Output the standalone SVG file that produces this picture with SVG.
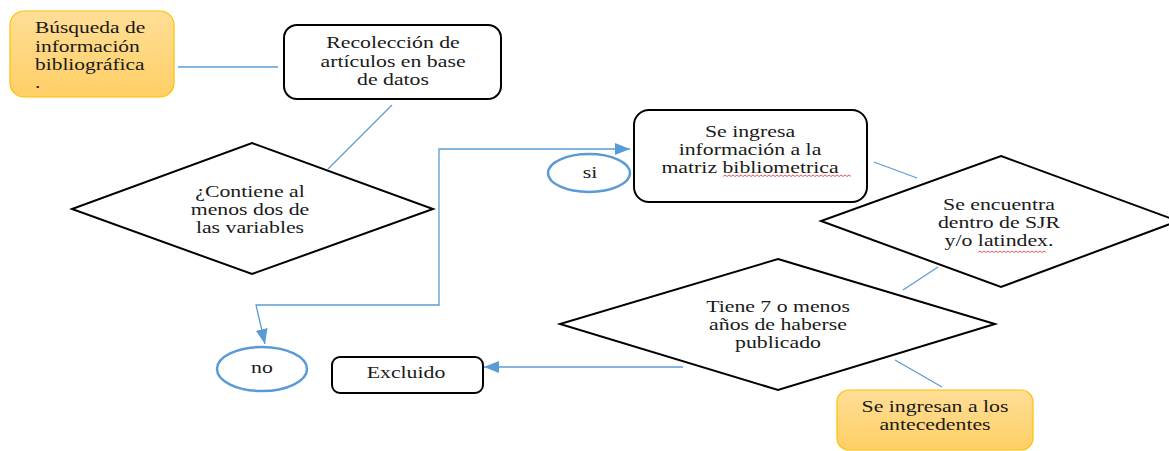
<svg xmlns="http://www.w3.org/2000/svg" width="1169" height="451" viewBox="0 0 1169 451">
<style>
.box{fill:#fff;stroke:#000;stroke-width:2}
.orange{fill:url(#og);stroke:#FFC000;stroke-width:1.2}
.dia{fill:#fff;stroke:#000;stroke-width:2}
.oval{fill:#fff;stroke:#5B9BD5;stroke-width:2.5}
.ln{fill:none;stroke:#5B9BD5;stroke-width:1.3}
.t{font-family:'Liberation Serif','DejaVu Serif',serif;font-size:16.5px;fill:#1a1a1a}
.sq{fill:none;stroke:#E03030;stroke-width:0.8}
</style>
<defs>
<linearGradient id="og" x1="0" y1="0" x2="0" y2="1">
<stop offset="0" stop-color="#FFDE96"/>
<stop offset="1" stop-color="#FFCF66"/>
</linearGradient>
<marker id="ar" markerUnits="userSpaceOnUse" markerWidth="16" markerHeight="12" refX="15" refY="6" orient="auto">
<path d="M0,0 L15,6 L0,12 Z" fill="#5B9BD5"/>
</marker>
</defs>
<rect width="1169" height="451" fill="#fff"/>

<g id="connectors">
<line class="ln" x1="178" y1="67" x2="278" y2="67"/>
<line class="ln" x1="392" y1="105" x2="328" y2="169"/>
<path class="ln" d="M439,306 L439,149 L630,149" marker-end="url(#ar)"/>
<path class="ln" d="M439,305 L256,305 L265,344" marker-end="url(#ar)"/>
<line class="ln" x1="874" y1="162" x2="917" y2="178"/>
<line class="ln" x1="938" y1="267" x2="903" y2="290"/>
<line class="ln" x1="683" y1="367" x2="484" y2="367" marker-end="url(#ar)"/>
<line class="ln" x1="895" y1="360" x2="942" y2="387"/>
</g>

<g id="busqueda">
<rect class="orange" x="10" y="11" width="164" height="86" rx="14"/>
<text class="t" font-family="Liberation Serif, serif" transform="translate(35 0) scale(1.3 1)"><tspan x="0" y="33">Búsqueda de</tspan><tspan x="0" y="52">información</tspan><tspan x="0" y="70">bibliográfica</tspan><tspan x="0" y="88">.</tspan></text>
</g>

<g id="recoleccion">
<rect class="box" x="284" y="25" width="217" height="74" rx="13"/>
<text class="t" font-family="Liberation Serif, serif" text-anchor="middle" transform="translate(393 0) scale(1.32 1)"><tspan x="0" y="48">Recolección de</tspan><tspan x="0" y="67">artículos en base</tspan><tspan x="0" y="85">de datos</tspan></text>
</g>

<g id="contiene">
<polygon class="dia" points="252,143 433,209 252,274 72,209"/>
<text class="t" font-family="Liberation Serif, serif" text-anchor="middle" transform="translate(250 0) scale(1.32 1)"><tspan x="0" y="197">¿Contiene al</tspan><tspan x="0" y="215">menos dos de</tspan><tspan x="0" y="233">las variables</tspan></text>
</g>

<g id="si">
<ellipse class="oval" cx="589" cy="173" rx="41" ry="19"/>
<text class="t" font-family="Liberation Serif, serif" text-anchor="middle" transform="translate(590 0) scale(1.32 1)"><tspan x="0" y="178">si</tspan></text>
</g>

<g id="ingresa">
<rect class="box" x="634" y="110" width="233" height="92" rx="15"/>
<text class="t" font-family="Liberation Serif, serif" text-anchor="middle" transform="translate(750 0) scale(1.32 1)"><tspan x="0" y="137">Se ingresa</tspan><tspan x="0" y="155">información a la</tspan><tspan x="0" y="173">matriz bibliometrica</tspan></text>
<path class="sq" d="M723,176.5 l2,-1.5 2,1.5 2,-1.5 2,1.5 2,-1.5 2,1.5 2,-1.5 2,1.5 2,-1.5 2,1.5 2,-1.5 2,1.5 2,-1.5 2,1.5 2,-1.5 2,1.5 2,-1.5 2,1.5 2,-1.5 2,1.5 2,-1.5 2,1.5 2,-1.5 2,1.5 2,-1.5 2,1.5 2,-1.5 2,1.5 2,-1.5 2,1.5 2,-1.5 2,1.5 2,-1.5 2,1.5 2,-1.5 2,1.5 2,-1.5 2,1.5 2,-1.5 2,1.5 2,-1.5 2,1.5 2,-1.5 2,1.5 2,-1.5 2,1.5 2,-1.5 2,1.5 2,-1.5 2,1.5 2,-1.5 2,1.5 2,-1.5 2,1.5 2,-1.5 2,1.5 2,-1.5 2,1.5 2,-1.5 2,1.5 2,-1.5 2,1.5 2,-1.5 2,1.5"/>
</g>

<g id="encuentra">
<polygon class="dia" points="1001,156 1178,221 1001,287 821,221"/>
<text class="t" font-family="Liberation Serif, serif" text-anchor="middle" transform="translate(999 0) scale(1.32 1)"><tspan x="0" y="210">Se encuentra</tspan><tspan x="0" y="228">dentro de SJR</tspan><tspan x="0" y="246">y/o latindex.</tspan></text>
<path class="sq" d="M978,252.5 l2,-1.5 2,1.5 2,-1.5 2,1.5 2,-1.5 2,1.5 2,-1.5 2,1.5 2,-1.5 2,1.5 2,-1.5 2,1.5 2,-1.5 2,1.5 2,-1.5 2,1.5 2,-1.5 2,1.5 2,-1.5 2,1.5 2,-1.5 2,1.5 2,-1.5 2,1.5 2,-1.5 2,1.5 2,-1.5 2,1.5 2,-1.5 2,1.5 2,-1.5 2,1.5 2,-1.5 2,1.5"/>
</g>

<g id="tiene">
<polygon class="dia" points="778,259 995,324 778,390 560,324"/>
<text class="t" font-family="Liberation Serif, serif" text-anchor="middle" transform="translate(778 0) scale(1.32 1)"><tspan x="0" y="312">Tiene 7 o menos</tspan><tspan x="0" y="330">años de haberse</tspan><tspan x="0" y="348">publicado</tspan></text>
</g>

<g id="no">
<ellipse class="oval" cx="262" cy="369" rx="45" ry="22"/>
<text class="t" font-family="Liberation Serif, serif" text-anchor="middle" transform="translate(262 0) scale(1.32 1)"><tspan x="0" y="373">no</tspan></text>
</g>

<g id="excluido">
<rect class="box" x="332" y="357" width="151" height="36" rx="8"/>
<text class="t" font-family="Liberation Serif, serif" text-anchor="middle" transform="translate(406 0) scale(1.32 1)"><tspan x="0" y="378">Excluido</tspan></text>
</g>

<g id="antecedentes">
<rect class="orange" x="837" y="390" width="196" height="60" rx="12"/>
<text class="t" font-family="Liberation Serif, serif" text-anchor="middle" transform="translate(935 0) scale(1.32 1)"><tspan x="0" y="412">Se ingresan a los</tspan><tspan x="0" y="430">antecedentes</tspan></text>
</g>
</svg>
